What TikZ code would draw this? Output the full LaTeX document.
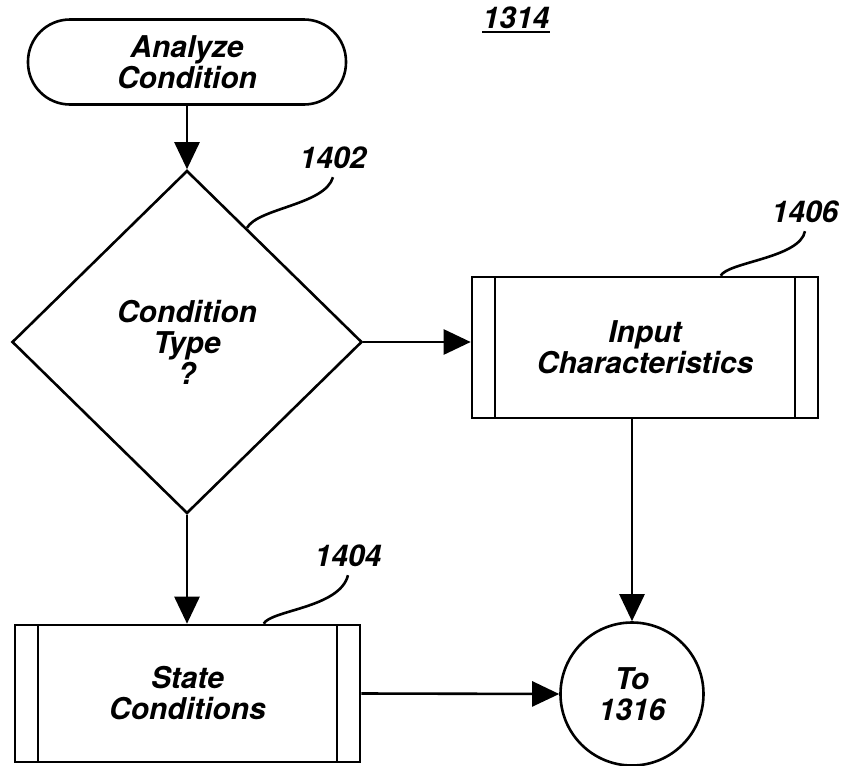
\documentclass[tikz,border=0pt]{standalone}
\usepackage{fontspec}
\setmainfont{TeX Gyre Heros}
\usepackage{tikz}
\usetikzlibrary{shapes.geometric,arrows.meta,calc}

\tikzset{
  flowtext/.style={font=\fontsize{30}{31}\selectfont\bfseries\itshape, align=center},
  terminal/.style={flowtext, draw, line width=2.6pt, rounded corners=42pt,
                   minimum width=318pt, minimum height=85pt, inner sep=0pt},
  decision/.style={flowtext, draw, line width=2.6pt, diamond, aspect=1,
                   minimum width=350pt, minimum height=343pt, inner sep=0pt},
  predef/.style={flowtext, draw, line width=2.6pt, inner sep=0pt,
                 path picture={
                   \draw[line width=2.2pt] ([xshift=23pt]path picture bounding box.north west)
                         -- ([xshift=23pt]path picture bounding box.south west);
                   \draw[line width=2.2pt] ([xshift=-23pt]path picture bounding box.north east)
                         -- ([xshift=-23pt]path picture bounding box.south east);
                 }},
  offpage/.style={flowtext, draw, line width=2.6pt, circle, minimum size=143pt, inner sep=0pt},
  flow/.style={line width=2.6pt, -{Triangle[length=27pt,width=25pt]}},
  leader/.style={line width=2.6pt},
  reflabel/.style={font=\fontsize{30}{31}\selectfont\bfseries\itshape, inner sep=0pt}
}

\begin{document}
\begin{tikzpicture}[x=1pt,y=-1pt]

  \useasboundingbox (0,0) rectangle (847,766);

  % The boxes
  \node[terminal] (start) at (187,62) {Analyze\\Condition};
  \node[decision] (ctype) at (187,342) {Condition\\Type\\?};
  \node[predef, minimum width=346pt, minimum height=141pt] (inchar) at (645,347.5) {Input\\Characteristics};
  \node[predef, minimum width=345pt, minimum height=137pt] (statecond) at (187.5,693.5) {State\\Conditions};
  \node[offpage] (goto) at (632,694) {To\\1316};

  % The arrows
  \draw[flow] (start.south) -- (ctype.north);
  \draw[flow] (ctype.east) -- (ctype.east -| inchar.west);
  \draw[flow] (ctype.south) -- (ctype.south |- statecond.north);
  \draw[flow] (inchar.south -| goto.north) -- (goto.north);
  \draw[flow] (statecond.east) -- (goto.west);

  % The labels
  \node[reflabel] (fig) at (516,18) {1314};
  \draw[line width=2.4pt] ([yshift=-3pt]fig.south west) -- ([yshift=-3pt]fig.south east);
  \node[reflabel] (l1402) at (333,158) {1402};
  \node[reflabel] (l1406) at (805,212) {1406};
  \node[reflabel] (l1404) at (348,556) {1404};

  \draw[leader] ($(ctype.north)!0.34!(ctype.east)$) .. controls (258,208) and (325,205) .. ([yshift=-8pt]l1402.south);
  \draw[leader] ([xshift=250pt]inchar.north west) .. controls (728,262) and (800,258) .. ([yshift=-8pt]l1406.south);
  \draw[leader] ([xshift=250pt]statecond.north west) .. controls (271,610) and (340,608) .. ([yshift=-8pt]l1404.south);

\end{tikzpicture}
\end{document}
